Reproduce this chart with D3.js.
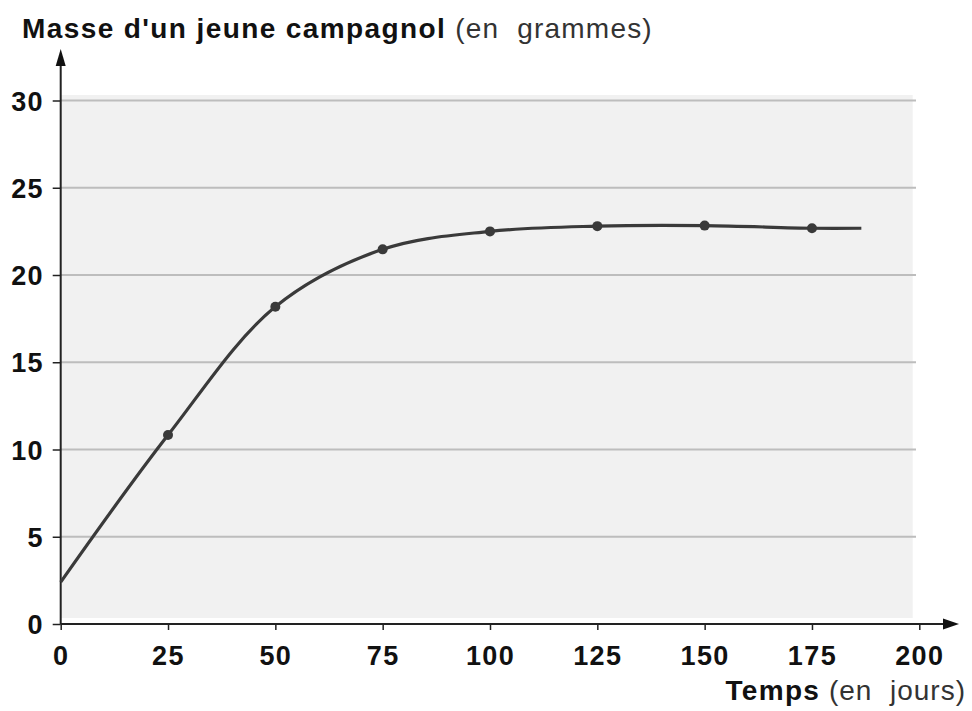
<!DOCTYPE html>
<html><head><meta charset="utf-8">
<script src="https://cdn.jsdelivr.net/npm/d3@7"></script>
<style>
body{margin:0;background:#fff;}
svg{display:block;font-family:"Liberation Sans",Arial,sans-serif;}
</style></head>
<body><svg id="c" width="972" height="711"></svg>
<script>
const days = [0, 25, 50, 75, 100, 125, 150, 175, 186.5];
const mass = [2.4, 10.83, 18.18, 21.47, 22.5, 22.8, 22.83, 22.68, 22.68];
const markedDays = [25, 50, 75, 100, 125, 150, 175];
const xTicks = [0, 25, 50, 75, 100, 125, 150, 175, 200];
const yTicks = [0, 5, 10, 15, 20, 25, 30];

const FONT = "'Liberation Sans',Arial,sans-serif";
const svg = d3.select("#c");
const x = d3.scaleLinear().domain([0, 200]).range([60.7, 919.3]);
const y = d3.scaleLinear().domain([0, 30]).range([624, 100.5]);

// background panel
svg.append("rect").attr("x", x(0)).attr("y", 95).attr("width", 852).attr("height", 523)
  .attr("fill", "#f1f1f1");

// grid lines
svg.append("g").selectAll("line").data(yTicks.filter(d => d > 0)).join("line")
  .attr("x1", x(0)).attr("x2", 916).attr("y1", d => y(d)).attr("y2", d => y(d))
  .attr("stroke", "#bdbdbd").attr("stroke-width", 2);

// y axis
const yAxis = svg.append("g").attr("transform", `translate(${x(0)},0)`)
  .call(d3.axisLeft(y).tickValues(yTicks).tickSize(8).tickPadding(9));
yAxis.select(".domain").remove();
yAxis.selectAll(".tick line").attr("stroke", "#222").attr("stroke-width", 1.5);
yAxis.selectAll(".tick text").attr("font-size", 27).attr("font-weight", "bold")
  .attr("letter-spacing", 1.2).attr("fill", "#111").attr("font-family", FONT)
  .attr("dy", "0.36em");

// x axis
const xAxis = svg.append("g").attr("transform", `translate(0,${y(0)})`)
  .call(d3.axisBottom(x).tickValues(xTicks).tickSize(6).tickPadding(22));
xAxis.select(".domain").remove();
xAxis.selectAll(".tick line").attr("stroke", "#222").attr("stroke-width", 1.5);
xAxis.selectAll(".tick text").attr("font-size", 27).attr("font-weight", "bold")
  .attr("letter-spacing", 1.4).attr("fill", "#111").attr("font-family", FONT)
  .attr("dy", "0.48em");

// axis lines with arrows
svg.append("line").attr("x1", x(0)).attr("x2", 946).attr("y1", y(0)).attr("y2", y(0))
  .attr("stroke", "#222").attr("stroke-width", 2);
svg.append("path").attr("d", `M959,${y(0)} L943,${y(0)-5.5} L943,${y(0)+5.5} Z`).attr("fill", "#111");
svg.append("line").attr("x1", x(0)).attr("x2", x(0)).attr("y1", y(0)).attr("y2", 62)
  .attr("stroke", "#222").attr("stroke-width", 2);
svg.append("path").attr("d", `M${x(0)},49 L${x(0)-5},66 L${x(0)+5},66 Z`).attr("fill", "#111");

// curve
const pts = days.map((d, i) => [d, mass[i]]);
svg.append("path").datum(pts)
  .attr("d", d3.line().x(d => x(d[0])).y(d => y(d[1])).curve(d3.curveCatmullRom.alpha(0.5)))
  .attr("fill", "none").attr("stroke", "#3a3a3a").attr("stroke-width", 3.2);

svg.append("g").selectAll("circle").data(pts.filter(p => markedDays.includes(p[0]))).join("circle")
  .attr("cx", d => x(d[0])).attr("cy", d => y(d[1])).attr("r", 5).attr("fill", "#3a3a3a");

// titles
const t1 = svg.append("text").attr("x", 22).attr("y", 38).attr("font-size", 28).attr("fill", "#111");
t1.append("tspan").attr("font-weight", "bold").attr("letter-spacing", 1.4).text("Masse d'un jeune campagnol");
t1.append("tspan").attr("fill", "#333").attr("letter-spacing", 1.2).text(" (en\u00a0 grammes)");

const t2 = svg.append("text").attr("x", 966).attr("y", 700).attr("font-size", 28)
  .attr("text-anchor", "end").attr("fill", "#111");
t2.append("tspan").attr("font-weight", "bold").attr("letter-spacing", 1.3).text("Temps");
t2.append("tspan").attr("fill", "#333").attr("letter-spacing", 1.0).text(" (en\u00a0 jours)");
</script></body></html>
